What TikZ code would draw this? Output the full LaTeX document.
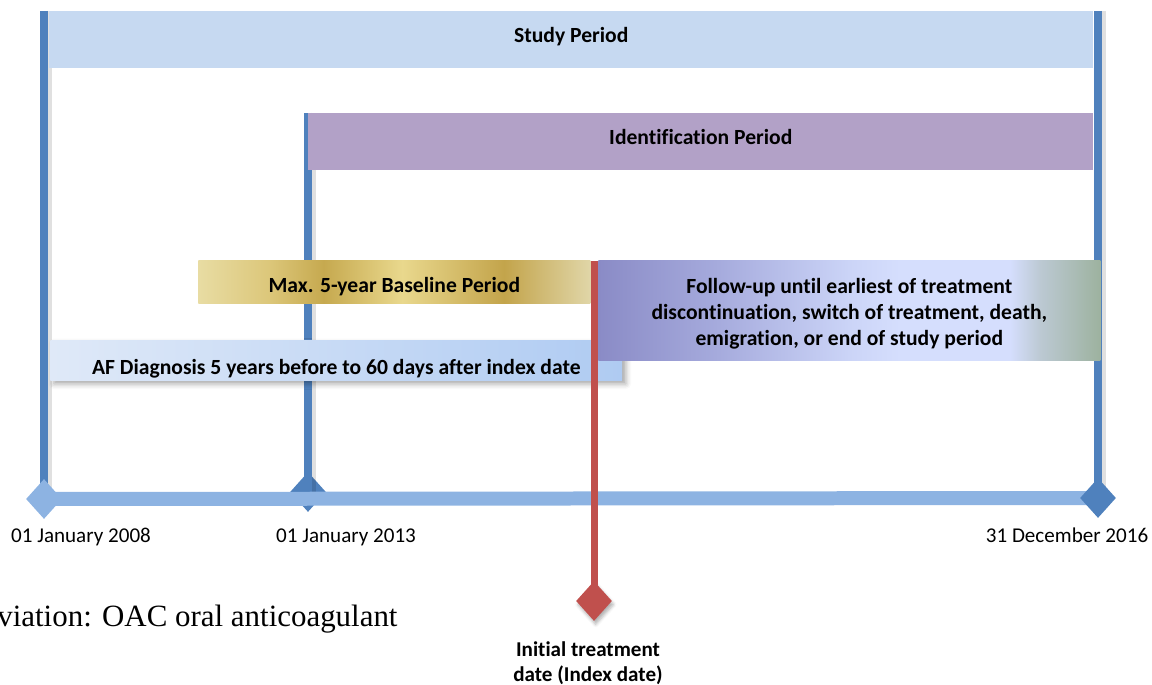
\documentclass[tikz,border=0pt]{standalone}
\usepackage{fontspec}
\newfontfamily\calibri[Ligatures=CommonOff]{Carlito}
\newfontfamily\timesfont{Liberation Serif}
\usetikzlibrary{shapes.geometric}
\usetikzlibrary{shadows.blur}
\usepackage{xcolor}

\definecolor{studyblue}{HTML}{C6D9F1}
\definecolor{identpurple}{HTML}{B2A1C7}
\definecolor{lineblue}{HTML}{4F81BD}
\definecolor{axisblue}{HTML}{8DB3E2}
\definecolor{idxred}{HTML}{C0504D}
\definecolor{afleft}{HTML}{DFE9F8}
\definecolor{afright}{HTML}{AFCBF2}
\definecolor{goldA}{HTML}{E8DCA3}
\definecolor{goldB}{HTML}{DCC77A}
\definecolor{goldC}{HTML}{C6A94F}
\definecolor{goldD}{HTML}{E9D88D}
\definecolor{goldE}{HTML}{C3A44B}
\definecolor{goldF}{HTML}{E0D6A8}
\definecolor{fupA}{HTML}{8A8BC6}
\definecolor{fupB}{HTML}{A6ABDD}
\definecolor{fupC}{HTML}{CBD4F7}
\definecolor{fupD}{HTML}{D5DEFD}
\definecolor{fupE}{HTML}{BCC9D3}
\definecolor{fupF}{HTML}{9DB29F}

\pgfdeclarehorizontalshading{goldbar}{100bp}{color(0bp)=(goldA); color(25bp)=(goldA); color(34bp)=(goldB);
  color(41bp)=(goldC); color(51bp)=(goldD); color(64bp)=(goldE); color(75bp)=(goldF); color(100bp)=(goldF)}
\pgfdeclarehorizontalshading{followbar}{100bp}{color(0bp)=(fupA); color(25bp)=(fupA); color(37bp)=(fupB);
  color(50bp)=(fupC); color(55bp)=(fupD); color(66bp)=(fupD); color(69bp)=(fupE); color(75bp)=(fupF); color(100bp)=(fupF)}

\pgfdeclarelayer{back}
\pgfdeclarelayer{mid}
\pgfsetlayers{back,mid,main}

\newcommand{\lift}[2]{\raisebox{#1}[\height][\depth]{#2}}

\tikzset{
  bar/.style={rectangle, anchor=north west, inner sep=0pt, align=center,
    font=\calibri\bfseries\fontsize{12.3}{14.8}\selectfont},
  vline/.style={draw=lineblue, line width=0.16cm,
    preaction={draw=black, draw opacity=0.12, line width=0.22cm, transform canvas={xshift=1.5pt}}},
  datemark/.style={diamond, inner sep=0pt, minimum width=0.72cm, minimum height=0.8cm},
  datelabel/.style={anchor=base, inner sep=0pt, font=\calibri\fontsize{12}{14.5}\selectfont},
}

\begin{document}
\begin{tikzpicture}[x=0.02cm,y=-0.02cm]
  \useasboundingbox (0,0) rectangle (1152,685);

  % period bars
  \node[bar, fill=studyblue, minimum width=20.88cm, minimum height=1.14cm] (study) at (49,11)
    {\lift{1.7pt}{Study Period}};
  \node[bar, fill=identpurple, minimum width=15.7cm, minimum height=1.14cm] (ident) at (308,113)
    {\lift{2.8pt}{Identification Period}};
  \node[bar, shade, shading=goldbar, minimum width=7.84cm, minimum height=0.86cm] (baseline) at (198,260)
    {\lift{-2.8pt}{Max. 5-year Baseline Period}};
  \node[bar, left color=afleft, right color=afright, minimum width=11.44cm, minimum height=0.8cm,
    blur shadow={shadow xshift=2pt, shadow yshift=-2pt, shadow blur radius=3pt, shadow opacity=35}] (afdiag) at (50,340)
    {\lift{-4.5pt}{AF Diagnosis 5 years before to 60 days after index date}};
  \node[bar, shade, shading=followbar, minimum width=10.04cm, minimum height=2cm] (followup) at (598,260) {};
  \node[bar, anchor=center] (followtext) at ([yshift=-1.8pt]followup.center)
    {Follow-up until earliest of treatment\\discontinuation, switch of treatment, death,\\emigration, or end of study period};

  % dates on the time axis
  \node[datemark, fill=axisblue] (d2008) at (44,499) {};
  \node[datemark, fill=lineblue] (d2016) at (1098,498) {};
  \node[datemark, fill=idxred, blur shadow={shadow xshift=1pt, shadow yshift=-2pt, shadow opacity=30}] (dindex) at (594,601) {};
  \coordinate (top2008) at (44,11);
  \coordinate (top2016) at (1098,11);
  \coordinate (topindex) at (594,261);

  \begin{pgfonlayer}{back}
    \node[datemark, fill=lineblue] (d2013) at (308,492) {};
    \draw[vline] (top2008) -- (d2008.center);
    \draw[vline] (ident.north west) -- (d2013.center);
    \draw[vline] (top2016) -- (d2016.center);
  \end{pgfonlayer}
  \begin{pgfonlayer}{mid}
    \draw[axisblue, line width=0.28cm] (d2008.center) -- (d2016.center);
  \end{pgfonlayer}
  \draw[idxred, line width=0.14cm] (topindex) -- (dindex.center);

  \node[datelabel] (l2008) at (81,542) {01 January 2008};
  \node[datelabel] (l2013) at (346,542) {01 January 2013};
  \node[datelabel] (l2016) at (1067,542) {31 December 2016};
  \node[anchor=north, inner sep=0pt, align=center, font=\calibri\bfseries\fontsize{12}{14.5}\selectfont] (lindex) at (588,641)
    {Initial treatment\\date (Index date)};
  \node[anchor=base west, inner sep=0pt, font=\timesfont\fontsize{17.6}{21}\selectfont] (abbrev) at (-3,626)
    {viation: OAC oral anticoagulant};
\end{tikzpicture}
\end{document}
